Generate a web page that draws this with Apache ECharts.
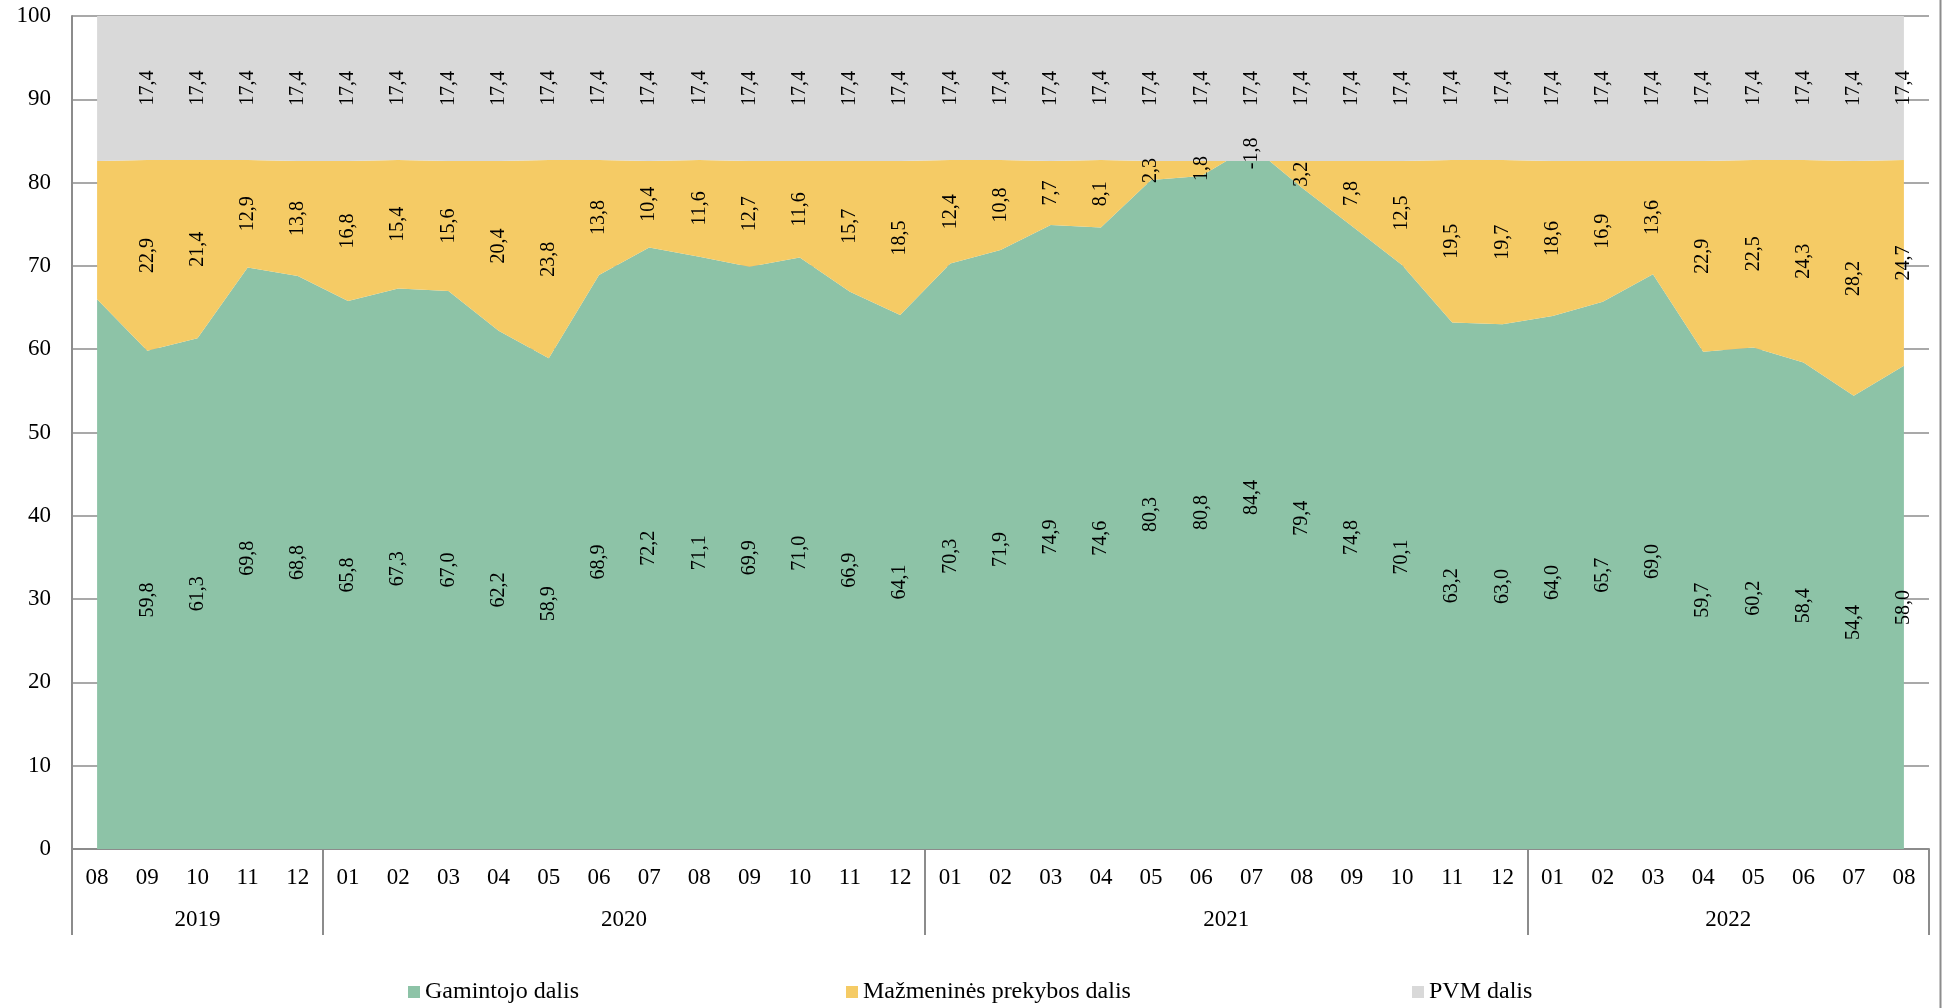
<!DOCTYPE html>
<html>
<head>
<meta charset="utf-8">
<script src="https://cdn.jsdelivr.net/npm/echarts@6/dist/echarts.min.js"></script>
<style>
  html, body { margin: 0; padding: 0; background: #ffffff; }
  #chart { width: 1946px; height: 1008px; }
</style>
</head>
<body>
<div id="chart"></div>
<script>
// Months from 2019-08 to 2022-08
const months = [
  '08', '09', '10', '11', '12',
  '01', '02', '03', '04', '05', '06', '07', '08', '09', '10', '11', '12',
  '01', '02', '03', '04', '05', '06', '07', '08', '09', '10', '11', '12',
  '01', '02', '03', '04', '05', '06', '07', '08'
];
const yearNames = ['2019', '2020', '2021', '2022'];
const yearMonthCounts = [5, 12, 12, 8];

// Price structure shares, %
const producerShare = [
  66.0, 59.8, 61.3, 69.8, 68.8,
  65.8, 67.3, 67.0, 62.2, 58.9, 68.9, 72.2, 71.1, 69.9, 71.0, 66.9, 64.1,
  70.3, 71.9, 74.9, 74.6, 80.3, 80.8, 84.4, 79.4, 74.8, 70.1, 63.2, 63.0,
  64.0, 65.7, 69.0, 59.7, 60.2, 58.4, 54.4, 58.0
];
const retailShare = [
  16.6, 22.9, 21.4, 12.9, 13.8,
  16.8, 15.4, 15.6, 20.4, 23.8, 13.8, 10.4, 11.6, 12.7, 11.6, 15.7, 18.5,
  12.4, 10.8, 7.7, 8.1, 2.3, 1.8, -1.8, 3.2, 7.8, 12.5, 19.5, 19.7,
  18.6, 16.9, 13.6, 22.9, 22.5, 24.3, 28.2, 24.7
];
const vatShare = [
  17.4, 17.4, 17.4, 17.4, 17.4,
  17.4, 17.4, 17.4, 17.4, 17.4, 17.4, 17.4, 17.4, 17.4, 17.4, 17.4, 17.4,
  17.4, 17.4, 17.4, 17.4, 17.4, 17.4, 17.4, 17.4, 17.4, 17.4, 17.4, 17.4,
  17.4, 17.4, 17.4, 17.4, 17.4, 17.4, 17.4, 17.4
];

const seriesNames = ['Gamintojo dalis', 'Mažmeninės prekybos dalis', 'PVM dalis'];
const seriesColors = ['#8DC3A7', '#F5CB65', '#D9D9D9'];
const seriesValues = [producerShare, retailShare, vatShare];

const FONT = "'Liberation Serif', 'Times New Roman', serif";
const AXIS_GRAY = '#8c8c8c';

const GRID_LEFT = 72, GRID_RIGHT = 17;
const chartWidth = 1946;
const bandWidth = (chartWidth - GRID_LEFT - GRID_RIGHT) / months.length;

// Year groups: first month index, and the month index carrying the year label
const groupStarts = [];
const yearLabelAt = {};
let start = 0;
yearMonthCounts.forEach(function (n, g) {
  groupStarts.push(start);
  const idx = start + Math.floor((n - 1) / 2);
  yearLabelAt[idx] = { name: yearNames[g], shift: n % 2 === 0 };
  start += n;
});

const fmt = function (v) { return v.toFixed(1).replace('.', ','); };

const areaSeries = seriesValues.map(function (vals, s) {
  return {
    name: seriesNames[s],
    type: 'line',
    stack: 'price',
    stackStrategy: 'all',
    data: vals,
    showSymbol: false,
    symbol: 'none',
    silent: true,
    lineStyle: { width: 0, color: seriesColors[s] },
    itemStyle: { color: seriesColors[s] },
    areaStyle: { color: seriesColors[s], opacity: 1 },
    emphasis: { disabled: true }
  };
});

// Invisible stacked bars carry the value labels centred in each band
const labelSeries = seriesValues.map(function (vals, s) {
  return {
    name: 'label-' + s,
    type: 'bar',
    stack: 'labels',
    stackStrategy: 'all',
    barWidth: 20,
    silent: true,
    itemStyle: { color: 'rgba(0,0,0,0)' },
    emphasis: { disabled: true },
    data: vals.map(function (v, i) {
      return { value: v, label: { show: i > 0 } };
    }),
    label: {
      show: true,
      position: 'inside',
      rotate: 90,
      fontFamily: FONT,
      fontSize: 20,
      color: '#000000',
      formatter: function (p) { return fmt(p.value); }
    },
    z: 5
  };
});

const legendBase = {
  icon: 'rect',
  itemWidth: 12,
  itemHeight: 12,
  itemGap: 10,
  padding: 0,
  top: 980,
  selectedMode: false,
  textStyle: { fontFamily: FONT, fontSize: 24, color: '#000000', padding: [0, 0, 0, 0] }
};

const chart = echarts.init(document.getElementById('chart'), null, { renderer: 'canvas' });
chart.setOption({
  animation: false,
  backgroundColor: '#ffffff',
  grid: { left: GRID_LEFT, right: GRID_RIGHT, top: 16, bottom: 159, containLabel: false },
  legend: [
    Object.assign({}, legendBase, { data: [seriesNames[0]], left: 408 }),
    Object.assign({}, legendBase, { data: [seriesNames[1]], left: 846 }),
    Object.assign({}, legendBase, { data: [seriesNames[2]], left: 1412 })
  ],
  xAxis: [
    {
      type: 'category',
      data: months,
      boundaryGap: true,
      position: 'bottom',
      axisLine: { show: true, lineStyle: { color: AXIS_GRAY, width: 2 } },
      axisTick: { show: false },
      axisLabel: {
        interval: 0,
        margin: 17,
        fontFamily: FONT,
        fontSize: 23,
        color: '#000000'
      },
      splitLine: { show: false }
    },
    {
      type: 'category',
      data: months,
      boundaryGap: true,
      position: 'bottom',
      offset: 0,
      axisLine: { show: false },
      axisTick: {
        show: true,
        length: 86,
        interval: function (i) { return groupStarts.indexOf(i) !== -1; },
        lineStyle: { color: AXIS_GRAY, width: 2 }
      },
      axisLabel: {
        margin: 59,
        interval: function (i) { return yearLabelAt[i] !== undefined; },
        formatter: function (v, i) {
          const y = yearLabelAt[i];
          if (!y) return '';
          return (y.shift ? '{s|' : '{c|') + y.name + '}';
        },
        rich: {
          s: { fontFamily: FONT, fontSize: 23, color: '#000000', padding: [0, 0, 0, bandWidth] },
          c: { fontFamily: FONT, fontSize: 23, color: '#000000' }
        }
      },
      splitLine: { show: false }
    }
  ],
  yAxis: {
    type: 'value',
    min: 0,
    max: 100,
    interval: 10,
    axisLine: { show: true, lineStyle: { color: AXIS_GRAY, width: 2 } },
    axisTick: { show: false },
    axisLabel: { margin: 21, fontFamily: FONT, fontSize: 23, color: '#000000' },
    splitLine: { show: true, lineStyle: { color: AXIS_GRAY, width: 1.5 } }
  },
  graphic: [
    {
      type: 'line',
      shape: { x1: 1940.5, y1: 0, x2: 1940.5, y2: 1008 },
      style: { stroke: AXIS_GRAY, lineWidth: 2 },
      silent: true
    }
  ],
  series: areaSeries.concat(labelSeries)
});
</script>
</body>
</html>
